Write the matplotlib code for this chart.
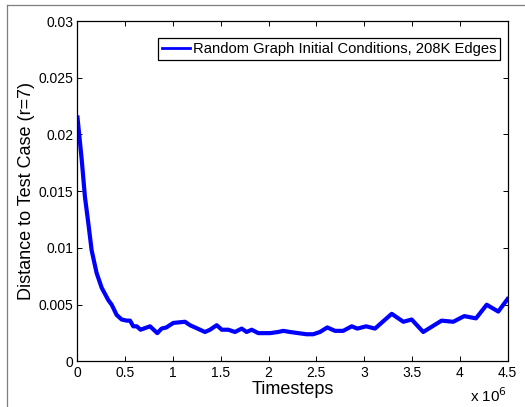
import matplotlib

matplotlib.use("Agg")
import matplotlib.pyplot as plt
from matplotlib.lines import Line2D

plt.rcParams["font.family"] = ["Liberation Sans", "DejaVu Sans"]

# timesteps (x 1e6) and distance
steps = [0.0, 0.044, 0.078, 0.113, 0.148, 0.2, 0.253, 0.323, 0.358, 0.41,
         0.462, 0.515, 0.55, 0.584, 0.62, 0.66, 0.759, 0.835, 0.88, 0.93,
         1.003, 1.125, 1.177, 1.23, 1.334, 1.387, 1.457, 1.51, 1.578, 1.648,
         1.718, 1.77, 1.823, 1.892, 2.015, 2.1, 2.154, 2.224, 2.31, 2.398,
         2.467, 2.537, 2.614, 2.695, 2.78, 2.87, 2.928, 3.02, 3.113, 3.288,
         3.41, 3.497, 3.618, 3.81, 3.932, 4.047, 4.17, 4.282, 4.403, 4.5]
dist = [0.0215, 0.0178, 0.0145, 0.0122, 0.0098, 0.0078, 0.0065, 0.0054, 0.0050, 0.0041,
        0.0037, 0.0036, 0.0036, 0.0031, 0.0031, 0.0028, 0.0031, 0.0025, 0.0029, 0.0030,
        0.0034, 0.0035, 0.0032, 0.0030, 0.0026, 0.0028, 0.0032, 0.0028, 0.0028, 0.0026,
        0.0029, 0.0026, 0.0028, 0.0025, 0.0025, 0.0026, 0.0027, 0.0026, 0.0025, 0.0024,
        0.0024, 0.0026, 0.0030, 0.0027, 0.0027, 0.0031, 0.0029, 0.0031, 0.0029, 0.0042,
        0.0035, 0.0037, 0.0026, 0.0036, 0.0035, 0.0040, 0.0038, 0.0050, 0.0044, 0.0055]

xticks = [0, 0.5, 1, 1.5, 2, 2.5, 3, 3.5, 4, 4.5]
xticklabels = ["0", "0.5", "1", "1.5", "2", "2.5", "3", "3.5", "4", "4.5"]
yticks = [0, 0.005, 0.01, 0.015, 0.02, 0.025, 0.03]
yticklabels = ["0", "0.005", "0.01", "0.015", "0.02", "0.025", "0.03"]

fig = plt.figure(figsize=(5.25, 4.07), dpi=100)
ax = fig.add_axes([0.1476, 0.1118, 0.8191, 0.8366])

ax.plot(steps, dist, color="#0000ff", lw=3,
        label="Random Graph Initial Conditions, 208K Edges")
ax.set_xlim(0, 4.5)
ax.set_ylim(0, 0.03)
ax.set_xticks(xticks)
ax.set_xticklabels(xticklabels)
ax.set_yticks(yticks)
ax.set_yticklabels(yticklabels)
ax.tick_params(direction="in", length=3.5, width=0.7, top=True, right=True,
               labelsize=10, pad=3, colors="black")
for s in ax.spines.values():
    s.set_linewidth(0.9)

ax.set_xlabel("Timesteps", fontsize=13, labelpad=1)
ax.set_ylabel("Distance to Test Case (r=7)", fontsize=13, labelpad=2.5)
fig.text(0.966, 0.027, r"x 10$^{6}$", fontsize=11, ha="right", va="center")

leg = ax.legend(loc="upper right", bbox_to_anchor=(0.9826, 0.949), borderaxespad=0,
                fontsize=10.6, fancybox=False, framealpha=1, edgecolor="black",
                handlelength=1.9, handletextpad=0.2, borderpad=0.25)
leg.get_frame().set_linewidth(0.9)
leg.get_lines()[0].set_linewidth(2)

# window frame, as in the screenshot
fig.add_artist(Line2D([0.0128, 0.0128], [0, 0.9877], color="#7f7f7f", lw=0.9))
fig.add_artist(Line2D([0.0128, 1], [0.9877, 0.9877], color="#7f7f7f", lw=0.9))

fig.savefig("out.png", dpi=100)
